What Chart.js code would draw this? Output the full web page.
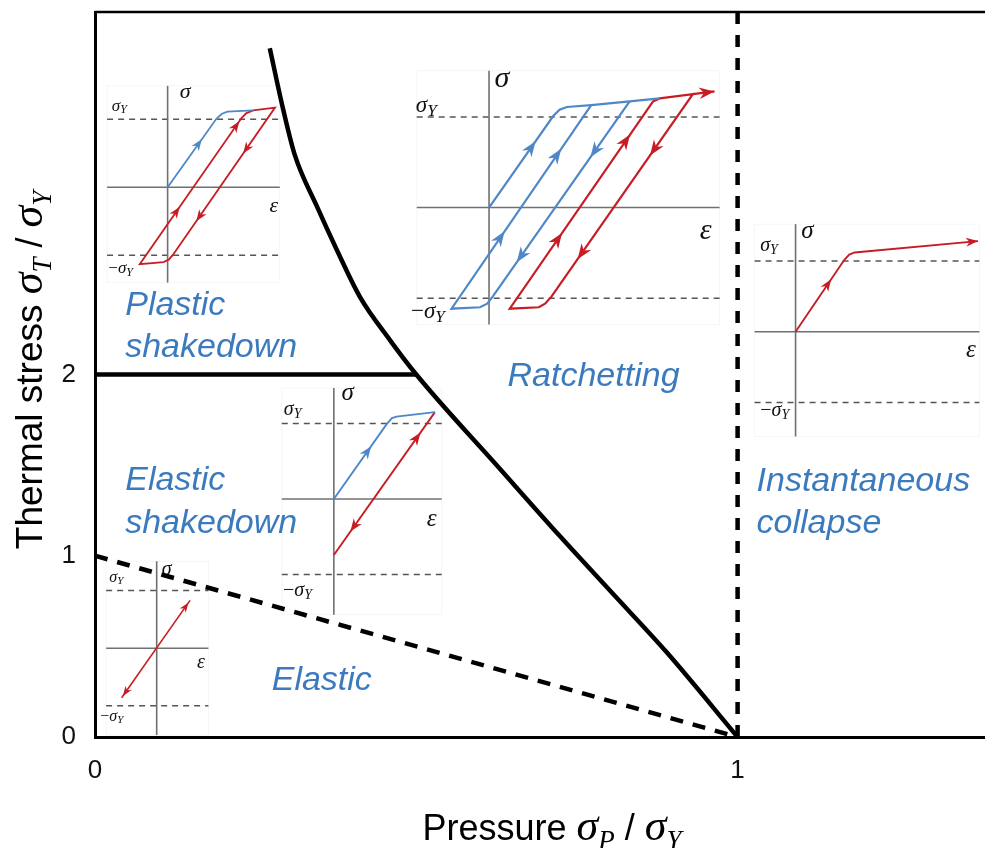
<!DOCTYPE html>
<html>
<head>
<meta charset="utf-8">
<title>Bree diagram</title>
<script src="https://cdn.jsdelivr.net/npm/chart.js@4.4.1/dist/chart.umd.min.js"></script>
<style>
  html, body { margin: 0; padding: 0; background: #fff; }
  #wrap { width: 985px; height: 848px; position: relative; }
</style>
</head>
<body>
<div id="wrap"><canvas id="bree"></canvas></div>
<script>
// region boundaries, x = σP/σY, y = σT/σY
const ratchetX = [0.272, 0.293, 0.311, 0.345, 0.376, 0.412, 0.459, 0.5, 0.63, 0.723, 0.806, 0.889, 1.0];
const ratchetY = [3.80, 3.46, 3.21, 2.93, 2.69, 2.43, 2.19, 2.0, 1.48, 1.11, 0.79, 0.47, 0];
const shakedownX = [0, 0.5];
const shakedownY = [2, 2];
const elasticX = [0, 1];
const elasticY = [1, 0];
const collapseX = [1, 1];
const collapseY = [0, 4];
const xTicks = [0, 1];
const yTicks = [0, 1, 2];

// little stress-strain sketches, [ε, σ] in units of σY
const plasticBlue = [[0, 0], [0.72, 1.01], [0.80, 1.08], [0.88, 1.11], [1.26, 1.13]];
const plasticRed = [[1.26, 1.13], [1.58, 1.17], [0.08, -0.99], [0.02, -1.06], [-0.06, -1.10], [-0.41, -1.13], [1.09, 1.02], [1.16, 1.09], [1.26, 1.13]];
const ratchetBlueUp = [[0, 0], [0.71, 1.01], [0.78, 1.08], [0.86, 1.11], [1.13, 1.131], [1.555, 1.172], [1.886, 1.204]];
const ratchetBlueLoop = [[1.555, 1.172], [0.044, -0.977], [-0.02, -1.06], [-0.10, -1.10], [-0.415, -1.116], [1.13, 1.131]];
const ratchetRedLoop = [[1.886, 1.204], [2.254, 1.252], [0.69, -0.983], [0.62, -1.06], [0.55, -1.10], [0.229, -1.116], [1.812, 1.17], [1.886, 1.204]];
const ratchetRedTip = [[2.254, 1.252], [2.494, 1.282]];
const collapseRed = [[0, 0], [0.693, 1.02], [0.76, 1.09], [0.835, 1.12], [2.58, 1.28]];
const shakeBlue = [[0, 0], [0.70, 0.99], [0.77, 1.07], [0.83, 1.09], [1.34, 1.15]];
const shakeRed = [[1.34, 1.15], [0, -0.74]];
const elasticRed = [[-0.61, -0.86], [0.58, 0.83]];

const BLUE = '#4f87c7';
const RED = '#c81c24';
const LABEL_BLUE = '#3b7bbd';
const SANS = '"Liberation Sans", Arial, sans-serif';
const SERIF = '"Liberation Serif", "Times New Roman", serif';

// arrows: [segment, t, reversed]
const insets = [
  {
    origin: [0.113, 3.033], sx: 0.1058, sy: 0.3757,
    eps: [-0.89, 1.65], sig: [-1.40, 1.49], font: 22, lw: 1.8,
    sigmaAt: [0.18, 1.40], yieldAt: [-0.6, 1.19], epsAt: [1.5, -0.28], negAt: [-0.51, -1.2],
    paths: [
      { pts: plasticBlue, color: BLUE, arrows: [[0, 0.63]] },
      { pts: plasticRed, color: RED, arrows: [[1, 0.28], [1, 0.74], [5, 0.36], [5, 0.944]] }
    ]
  },
  {
    origin: [0.6132, 2.921], sx: 0.1407, sy: 0.5,
    eps: [-0.80, 2.55], sig: [-1.29, 1.51], font: 30, lw: 2.2,
    sigmaAt: [0.06, 1.42], yieldAt: [-0.58, 1.12], epsAt: [2.33, -0.26], negAt: [-0.49, -1.155],
    paths: [
      { pts: ratchetBlueUp, color: BLUE, arrows: [[0, 0.656]] },
      { pts: ratchetBlueLoop, color: BLUE, arrows: [[0, 0.255], [0, 0.794], [4, 0.349], [4, 0.754]] },
      { pts: ratchetRedLoop, color: RED, arrows: [[1, 0.272], [1, 0.784], [5, 0.335], [5, 0.81]] },
      { pts: ratchetRedTip, color: RED, arrows: [[0, 1]] }
    ]
  },
  {
    origin: [1.0902, 2.236], sx: 0.11, sy: 0.3906,
    eps: [-0.58, 2.60], sig: [-1.48, 1.52], font: 25, lw: 1.9,
    sigmaAt: [0.08, 1.42], yieldAt: [-0.25, 1.21], epsAt: [2.41, -0.27], negAt: [-0.09, -1.12],
    paths: [
      { pts: collapseRed, color: RED, arrows: [[0, 0.657], [3, 1]] }
    ]
  },
  {
    origin: [0.3717, 1.313], sx: 0.1174, sy: 0.417,
    eps: [-0.69, 1.43], sig: [-1.53, 1.47], font: 25, lw: 1.9,
    sigmaAt: [0.10, 1.40], yieldAt: [-0.43, 1.18], epsAt: [1.23, -0.27], negAt: [-0.29, -1.22],
    paths: [
      { pts: shakeBlue, color: BLUE, arrows: [[0, 0.636]] },
      { pts: shakeRed, color: RED, arrows: [[0, 0.18, true], [0, 0.80]] }
    ]
  },
  {
    origin: [0.096, 0.49], sx: 0.0894, sy: 0.3177,
    eps: [-0.88, 0.90], sig: [-1.51, 1.51], font: 20, lw: 1.6,
    sigmaAt: [0.09, 1.36], yieldAt: [-0.58, 1.22], epsAt: [0.7, -0.26], negAt: [-0.58, -1.19],
    paths: [
      { pts: elasticRed, color: RED, arrows: [[0, 0.935], [0, 0.06, true]] }
    ]
  }
];

const regionLabels = [
  { text: 'Plastic', x: 0.047, y: 2.331 },
  { text: 'shakedown', x: 0.047, y: 2.094 },
  { text: 'Elastic', x: 0.047, y: 1.365 },
  { text: 'shakedown', x: 0.047, y: 1.127 },
  { text: 'Ratchetting', x: 0.642, y: 1.935 },
  { text: 'Instantaneous', x: 1.0295, y: 1.359 },
  { text: 'collapse', x: 1.0295, y: 1.127 },
  { text: 'Elastic', x: 0.275, y: 0.260 }
];

const zip = (xs, ys) => xs.map((x, i) => ({ x: x, y: ys[i] }));
const toData = (inset, pts) => pts.map(([e, s]) => ({ x: inset.origin[0] + e * inset.sx, y: inset.origin[1] + s * inset.sy }));

function line(data, color, width, order, dash) {
  return {
    data: data, showLine: true, borderColor: color, borderWidth: width,
    borderDash: dash || [], pointRadius: 0, fill: false, tension: 0, order: order
  };
}

const boundary = line(zip(ratchetX, ratchetY), '#000', 4.5, 0);
boundary.cubicInterpolationMode = 'monotone';

const datasets = [
  boundary,
  line(zip(shakedownX, shakedownY), '#000', 4.5, 0),
  line(zip(elasticX, elasticY), '#000', 4.5, 0, [13, 10]),
  line(zip(collapseX, collapseY), '#000', 4.5, 0, [12, 11])
];

insets.forEach(ins => {
  const e0 = ins.eps[0], e1 = ins.eps[1];
  datasets.push(line(toData(ins, [[e0, 0], [e1, 0]]), '#707070', 1.6, 2));
  datasets.push(line(toData(ins, [[0, ins.sig[0]], [0, ins.sig[1]]]), '#707070', 1.6, 2));
  datasets.push(line(toData(ins, [[e0, 1], [e1, 1]]), '#555', 1.5, 2, [6, 5]));
  datasets.push(line(toData(ins, [[e0, -1], [e1, -1]]), '#555', 1.5, 2, [6, 5]));
  ins.paths.forEach(p => datasets.push(line(toData(ins, p.pts), p.color, ins.lw, 1)));
});

function insetPx(chart, ins, e, s) {
  const { x, y } = chart.scales;
  return [x.getPixelForValue(ins.origin[0] + e * ins.sx), y.getPixelForValue(ins.origin[1] + s * ins.sy)];
}

// text made of pieces with their own font and vertical shift
function drawRich(ctx, parts, x, y, align) {
  let w = 0;
  parts.forEach(p => { ctx.font = p.f; p.w = ctx.measureText(p.t).width; w += p.w; });
  let cx = align === 'center' ? x - w / 2 : align === 'right' ? x - w : x;
  parts.forEach(p => {
    ctx.font = p.f;
    ctx.fillText(p.t, cx, y + (p.dy || 0));
    cx += p.w;
  });
}

function arrowHead(ctx, x, y, dx, dy, len, color) {
  const nx = -dy, ny = dx, w = len * 0.38;
  ctx.fillStyle = color;
  ctx.beginPath();
  ctx.moveTo(x + dx * len / 2, y + dy * len / 2);
  ctx.lineTo(x - dx * len / 2 + nx * w, y - dy * len / 2 + ny * w);
  ctx.lineTo(x - dx * len * 0.2, y - dy * len * 0.2);
  ctx.lineTo(x - dx * len / 2 - nx * w, y - dy * len / 2 - ny * w);
  ctx.closePath();
  ctx.fill();
}

const sketchPlugin = {
  id: 'sketches',
  beforeDatasetsDraw(chart) {
    const ctx = chart.ctx;
    ctx.save();
    insets.forEach(ins => {
      const [l, t] = insetPx(chart, ins, ins.eps[0], ins.sig[1]);
      const [r, b] = insetPx(chart, ins, ins.eps[1], ins.sig[0]);
      ctx.fillStyle = '#fff';
      ctx.fillRect(l, t, r - l, b - t);
      ctx.strokeStyle = '#f6f6f6';
      ctx.lineWidth = 1;
      ctx.strokeRect(l, t, r - l, b - t);

      const f = ins.font, fs = Math.round(f * 0.78), sub = Math.round(f * 0.55);
      ctx.fillStyle = '#111';
      ctx.textBaseline = 'middle';
      let p = insetPx(chart, ins, ...ins.sigmaAt);
      drawRich(ctx, [{ t: 'σ', f: `italic ${f}px ${SERIF}` }], p[0], p[1], 'left');
      p = insetPx(chart, ins, ...ins.epsAt);
      drawRich(ctx, [{ t: 'ε', f: `italic ${f}px ${SERIF}` }], p[0], p[1], 'left');
      p = insetPx(chart, ins, ...ins.yieldAt);
      drawRich(ctx, [{ t: 'σ', f: `italic ${fs}px ${SERIF}` }, { t: 'Y', f: `italic ${sub}px ${SERIF}`, dy: fs * 0.22 }], p[0], p[1], 'right');
      p = insetPx(chart, ins, ...ins.negAt);
      drawRich(ctx, [{ t: '−', f: `${fs}px ${SERIF}` }, { t: 'σ', f: `italic ${fs}px ${SERIF}` }, { t: 'Y', f: `italic ${sub}px ${SERIF}`, dy: fs * 0.22 }], p[0], p[1], 'right');
    });
    ctx.restore();
  },
  afterDatasetsDraw(chart) {
    const ctx = chart.ctx;
    const { left, right, top } = chart.chartArea;
    ctx.save();
    // frame top edge
    ctx.strokeStyle = '#000';
    ctx.lineWidth = 2.5;
    ctx.beginPath();
    ctx.moveTo(left, top);
    ctx.lineTo(right, top);
    ctx.stroke();

    insets.forEach(ins => {
      const s = Math.abs(insetPx(chart, ins, 0, 1)[1] - insetPx(chart, ins, 0, 0)[1]);
      const len = s * 0.17;
      ins.paths.forEach(path => {
        path.arrows.forEach(([seg, t, rev]) => {
          const a = insetPx(chart, ins, ...path.pts[seg]);
          const b = insetPx(chart, ins, ...path.pts[seg + 1]);
          let dx = b[0] - a[0], dy = b[1] - a[1];
          const L = Math.hypot(dx, dy);
          dx /= L; dy /= L;
          let x = a[0] + (b[0] - a[0]) * t, y = a[1] + (b[1] - a[1]) * t;
          if (t === 1) { x -= dx * len / 2; y -= dy * len / 2; }
          if (rev) { dx = -dx; dy = -dy; }
          arrowHead(ctx, x, y, dx, dy, len, path.color);
        });
      });
    });

    const { x, y } = chart.scales;
    ctx.fillStyle = LABEL_BLUE;
    ctx.font = `italic 34px ${SANS}`;
    ctx.textBaseline = 'alphabetic';
    ctx.textAlign = 'left';
    regionLabels.forEach(l => ctx.fillText(l.text, x.getPixelForValue(l.x), y.getPixelForValue(l.y)));
    ctx.restore();
  },
  afterDraw(chart) {
    const ctx = chart.ctx;
    const { left, right } = chart.chartArea;
    ctx.save();
    ctx.fillStyle = '#000';
    ctx.textBaseline = 'alphabetic';
    const title = (sym, sub) => [
      { t: sym, f: `italic 44px ${SERIF}` },
      { t: sub, f: `italic 27px ${SERIF}`, dy: 9 },
      { t: ' / ', f: `36px ${SANS}` },
      { t: 'σ', f: `italic 44px ${SERIF}` },
      { t: 'Y', f: `italic 27px ${SERIF}`, dy: 9 }
    ];
    drawRich(ctx, [{ t: 'Pressure ', f: `36px ${SANS}` }].concat(title('σ', 'P')), (left + right) / 2 + 12, 840, 'center');
    ctx.translate(42, 370);
    ctx.rotate(-Math.PI / 2);
    drawRich(ctx, [{ t: 'Thermal stress ', f: `37px ${SANS}` }].concat(title('σ', 'T')), 0, 0, 'center');
    ctx.restore();
  }
};

new Chart(document.getElementById('bree'), {
  type: 'scatter',
  data: { datasets: datasets },
  options: {
    responsive: true,
    maintainAspectRatio: false,
    animation: false,
    layout: { padding: { top: 12, right: 0, left: 0, bottom: 0 } },
    plugins: { legend: { display: false }, tooltip: { enabled: false } },
    scales: {
      x: {
        type: 'linear', min: 0, max: 1.385,
        afterBuildTicks: s => { s.ticks = xTicks.map(v => ({ value: v })); },
        afterFit: s => { s.height = 111; s.paddingLeft = 0; s.paddingRight = 0; },
        grid: { display: false },
        border: { display: true, color: '#000', width: 3 },
        ticks: { padding: 10, color: '#111', font: { family: SANS, size: 26 }, maxRotation: 0 }
      },
      y: {
        type: 'linear', min: 0, max: 4,
        afterBuildTicks: s => { s.ticks = yTicks.map(v => ({ value: v })); },
        afterFit: s => { s.width = 95; s.paddingTop = 0; s.paddingBottom = 0; },
        grid: { display: false },
        border: { display: true, color: '#000', width: 3 },
        ticks: { padding: 11, color: '#111', font: { family: SANS, size: 26 } }
      }
    }
  },
  plugins: [sketchPlugin]
});
</script>
</body>
</html>
